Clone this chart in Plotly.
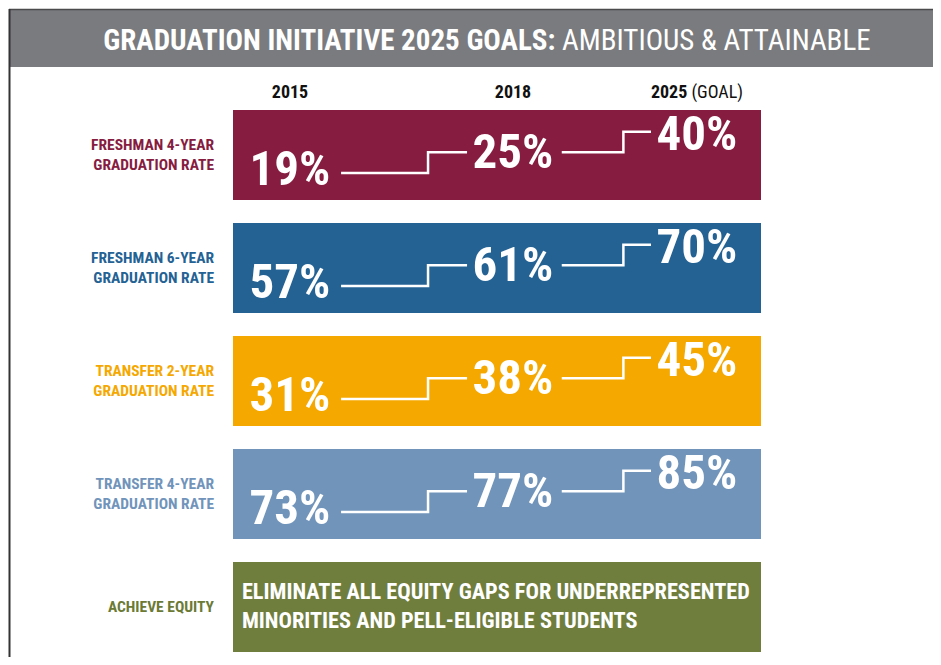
import plotly.graph_objects as go

# ---------------- data ----------------
years = ["2015", "2018", "2025"]
year_labels = ["<b>2015</b>", "<b>2018</b>", "<b>2025</b> (GOAL)"]
row_labels = [
    "FRESHMAN 4-YEAR<br>GRADUATION RATE",
    "FRESHMAN 6-YEAR<br>GRADUATION RATE",
    "TRANSFER 2-YEAR<br>GRADUATION RATE",
    "TRANSFER 4-YEAR<br>GRADUATION RATE",
    "ACHIEVE EQUITY",
]
fresh4 = [19, 25, 40]
fresh6 = [57, 61, 70]
trans2 = [31, 38, 45]
trans4 = [73, 77, 85]
rates = [fresh4, fresh6, trans2, trans4]
equity_text = "ELIMINATE ALL EQUITY GAPS FOR UNDERREPRESENTED<br>MINORITIES AND PELL-ELIGIBLE STUDENTS"
title_bold = "GRADUATION INITIATIVE 2025 GOALS:"
title_rest = "AMBITIOUS & ATTAINABLE"

# ---------------- style / layout ----------------
row_colors = ["#861C40", "#246294", "#F5A800", "#7194BB", "#6F7D3D"]
label_colors = ["#861C40", "#246294", "#F5A800", "#7194BB", "#6B7A35"]
FONT = "Roboto Condensed, Liberation Sans Narrow, DejaVu Sans Condensed, Arial Narrow, sans-serif"

OFF = 8  # page body margin
W, H = 941 - OFF, 665 - 2 * OFF
ML, MR, MT = 233 - OFF, 941 - 761, 110 - OFF
MB = H - (652 - OFF)
col_x = [0.0, 1.0, 1.825]
x_min, x_max = -0.2556, 2.1121
y_top, y_bot = -0.398, 4.398
bar_w = 0.796
text_dy = [0.16, 0.005, -0.155]       # vertical offset of value labels within band
step_lvl = [0.16, -0.025, -0.205]     # step line levels
gap_frac = [[0.229, 0.619, 0.794], [0.265, 0.6, 0.75]]

fig = go.Figure()

# bands
n_rows = len(row_labels)
fig.add_trace(go.Bar(
    orientation="h",
    y=list(range(n_rows)),
    x=[x_max - x_min] * n_rows,
    base=[x_min] * n_rows,
    width=bar_w,
    marker=dict(color=row_colors, line=dict(width=0)),
    hoverinfo="skip",
    showlegend=False,
))

# step lines and value labels
for r, vals in enumerate(rates):
    xs, ys = [], []
    for g in range(len(vals) - 1):
        a, b = col_x[g], col_x[g + 1]
        f0, f1, f2 = gap_frac[g]
        xs += [a + f0 * (b - a), a + f1 * (b - a), a + f1 * (b - a), a + f2 * (b - a), None]
        ys += [r + step_lvl[g], r + step_lvl[g], r + step_lvl[g + 1], r + step_lvl[g + 1], None]
    fig.add_trace(go.Scatter(
        x=xs, y=ys, mode="lines",
        line=dict(color="white", width=2.5),
        hoverinfo="skip", showlegend=False,
    ))
    fig.add_trace(go.Scatter(
        x=col_x,
        y=[r + d for d in text_dy],
        mode="text",
        text=[f"{v}%" for v in vals],
        textposition="middle center",
        textfont=dict(family=FONT, size=49, color="white", weight="bold"),
        hoverinfo="skip", showlegend=False,
    ))

# equity text
fig.add_trace(go.Scatter(
    x=[x_min + 0.04], y=[4 + 0.005],
    mode="text",
    text=[equity_text],
    textposition="middle right",
    textfont=dict(family=FONT, size=22.3, color="white", weight="bold"),
    hoverinfo="skip", showlegend=False,
))

# frame and title bar (paper coordinates, reference pixels)
def px_x(px):
    return (px - OFF - ML) / (W - ML - MR)

def px_y(py):
    return (H - MB - (py - OFF)) / (H - MT - MB)

fig.add_shape(type="rect", xref="paper", yref="paper",
              x0=px_x(9), x1=px_x(960), y0=px_y(67), y1=px_y(9),
              fillcolor="#7A7B7E", line=dict(width=0), layer="below")
fig.add_shape(type="line", xref="paper", yref="paper",
              x0=px_x(9), x1=px_x(960), y0=px_y(9.5), y1=px_y(9.5),
              line=dict(color="#4a4a4c", width=1.5))
fig.add_shape(type="line", xref="paper", yref="paper",
              x0=px_x(9.5), x1=px_x(9.5), y0=px_y(9), y1=px_y(680),
              line=dict(color="#333333", width=2))

row_ticktext = [f'<span style="color:{c}"><b>{t}</b></span>' for t, c in zip(row_labels, label_colors)]

fig.update_layout(
    width=W, height=H,
    margin=dict(l=ML, r=MR, t=MT, b=MB, pad=0),
    paper_bgcolor="white", plot_bgcolor="white",
    bargap=0,
    font=dict(family=FONT),
    title=dict(
        text=f"<b>{title_bold}</b> {title_rest}",
        x=(487 - OFF) / W, xanchor="center", xref="container",
        y=1 - (40 - OFF) / H, yanchor="middle", yref="container",
        font=dict(family=FONT, size=29, color="white"),
    ),
    xaxis=dict(
        range=[x_min, x_max], side="top",
        tickvals=col_x, ticktext=year_labels,
        tickfont=dict(family=FONT, size=18, color="#111111"),
        showgrid=False, zeroline=False, showline=False,
        ticks="", ticklabelstandoff=7, fixedrange=True,
    ),
    yaxis=dict(
        range=[y_bot, y_top],
        tickvals=list(range(n_rows)), ticktext=row_ticktext,
        tickfont=dict(family=FONT, size=15.5),
        showgrid=False, zeroline=False, showline=False,
        ticks="", ticklabelstandoff=18, fixedrange=True,
    ),
)

fig.write_html("out.html")
